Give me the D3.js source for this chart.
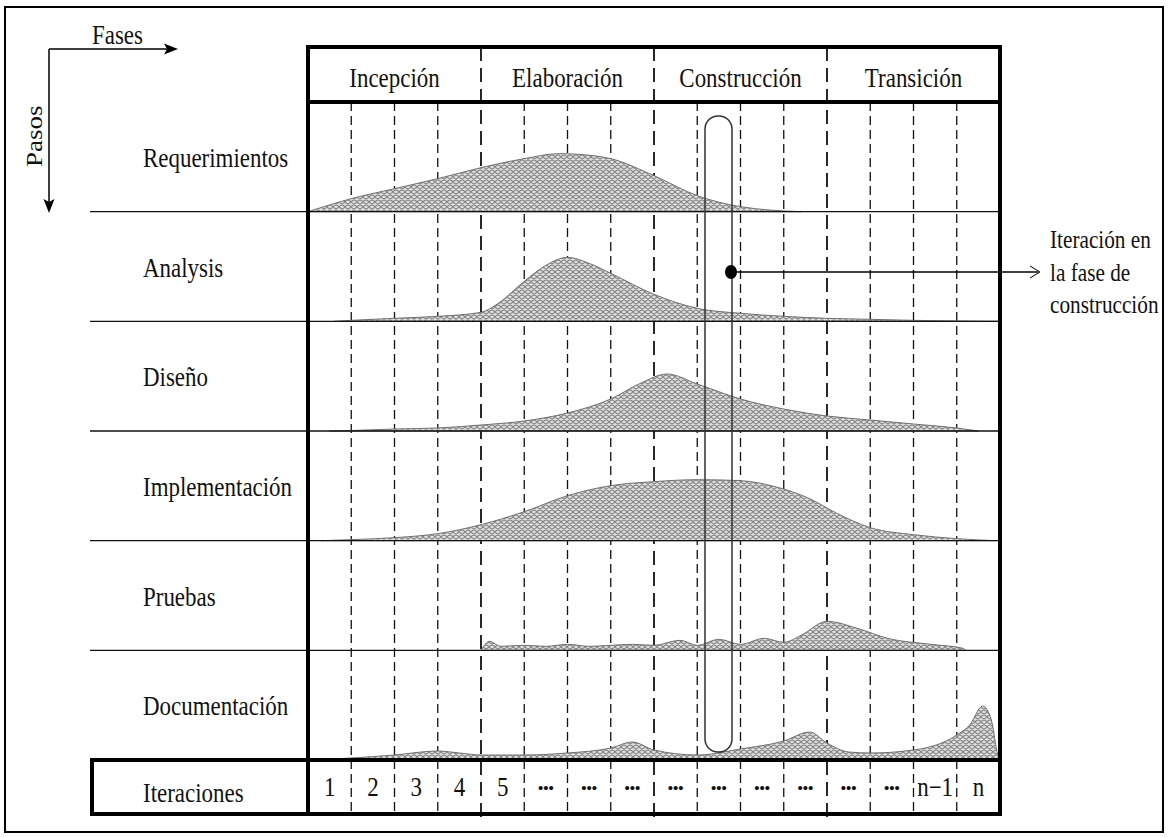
<!DOCTYPE html>
<html lang="es">

<head>
    <meta charset="UTF-8">
    <title>Fases y pasos del proceso</title>
    <script src="https://d3js.org/d3.v7.min.js"></script>
    <style>
        body {
            margin: 0;
            background: #fff;
        }

        text {
            font-family: "Liberation Serif", "DejaVu Serif", serif;
            fill: #111;
        }

        .col {
            stroke: #111;
            stroke-width: 1.3;
            stroke-dasharray: 9 5;
        }

        .phase {
            stroke: #111;
            stroke-width: 1.8;
            stroke-dasharray: 14 7;
        }

        .row {
            stroke: #111;
            stroke-width: 1.3;
        }

        .thick {
            stroke: #000;
            stroke-width: 4;
            fill: none;
        }

        .curve {
            fill: url(#hatch);
            stroke: #707070;
            stroke-width: 1;
        }
    </style>
</head>

<body>
    <svg id="chart"></svg>

    <script>
        const width = 1169;
        const height = 837;

        // phases (top header) and steps (rows)
        const phases = ['Incepción', 'Elaboración', 'Construcción', 'Transición'];
        const steps = ['Requerimientos', 'Analysis', 'Diseño', 'Implementación', 'Pruebas', 'Documentación'];
        const iterationLabels = ['1', '2', '3', '4', '5', '•••', '•••', '•••', '•••', '•••', '•••', '•••', '•••', '•••', 'n−1', 'n'];
        const noteLines = ['Iteración en', 'la fase de', 'construcción'];

        // effort curves: [iteration position, height]
        const reqPoints = [[0, 0], [1, 13], [2, 23], [3, 33], [4, 44], [5, 53], [5.8, 58], [6.6, 56], [7, 53], [8, 36], [9, 16], [10, 5], [11.4, 0]];
        const analysisPoints = [[0.6, 0], [1, 1], [2, 3], [3, 5], [4, 9], [4.4, 18], [5, 40], [5.5, 56], [6, 64], [6.5, 58], [7, 48], [8, 27], [9, 13], [10, 8], [11, 5], [12, 3], [13, 2], [14, 1], [16, 0]];
        const designPoints = [[0.5, 0], [1, 0.5], [2, 2], [3, 3], [4, 6], [5, 10], [6, 18], [7, 32], [7.7, 48], [8.3, 57], [9, 47], [10, 32], [11, 22], [12, 15], [13, 11], [14, 7], [15, 3], [15.5, 0]];
        const implPoints = [[0.3, 0], [1, 1], [2, 3], [3, 7], [4, 16], [5, 29], [6, 45], [7, 55], [8, 59], [9, 61], [10, 60], [10.8, 54], [11.6, 42], [12.2, 28], [13, 13], [14, 6], [15, 2], [15.9, 0]];
        const testPoints = [[4.0, 0], [4.2, 9], [4.45, 4], [5, 5], [5.5, 4], [6, 6], [6.5, 4], [7, 5], [7.5, 6], [8, 5], [8.6, 10], [9.0, 5], [9.5, 11], [10, 6], [10.55, 12], [11, 8], [11.4, 15], [12, 29], [12.7, 22], [13.4, 12], [14.4, 6], [15.15, 2], [15.2, 0]];
        const docPoints = [[0, 0], [1, 2], [2, 5], [3, 9], [3.5, 7], [4, 5], [5, 5], [6, 7], [7, 12], [7.5, 18], [8, 10], [9, 5], [10, 11], [11, 19], [11.6, 28], [12, 17], [12.5, 8], [13, 7], [14, 10], [15, 25], [15.3, 35], [15.6, 54], [15.8, 40], [15.95, 5], [16, 0]];
        const curves = [reqPoints, analysisPoints, designPoints, implPoints, testPoints, docPoints];

        // layout
        const gridLeft = 308, gridRight = 1000, gridTop = 47, headerBottom = 102, bodyBottom = 760, iterBottom = 814;
        const labelX = 143;

        const svg = d3.select('#chart')
            .attr('width', width)
            .attr('height', height);

        const defs = svg.append('defs');
        const pat = defs.append('pattern')
            .attr('id', 'hatch')
            .attr('width', 6)
            .attr('height', 5)
            .attr('patternUnits', 'userSpaceOnUse');
        pat.append('rect').attr('width', 6).attr('height', 5).attr('fill', '#e0e0e0');
        pat.append('path')
            .attr('d', 'M0,4.5 Q3,0.5 6,4.5 M-3,2 Q0,-2 3,2 M3,2 Q6,-2 9,2')
            .attr('fill', 'none')
            .attr('stroke', '#808080')
            .attr('stroke-width', 1.1);

        const x = d3.scaleLinear().domain([0, 16]).range([gridLeft, gridRight]);
        const rowY = d3.scaleBand().domain(steps).range([headerBottom, bodyBottom]);
        const h = d3.scaleLinear().domain([0, 100]).range([0, 100]);

        function addText(g, tx, ty, str, anchor, size) {
            return g.append('text')
                .attr('transform', `translate(${tx},${ty}) scale(0.85,1)`)
                .attr('text-anchor', anchor || 'start')
                .attr('font-size', size || 27)
                .text(str);
        }

        // outer frame
        svg.append('rect')
            .attr('x', 5).attr('y', 7)
            .attr('width', 1158).attr('height', 825)
            .attr('fill', 'none').attr('stroke', '#000').attr('stroke-width', 2);

        // dashed grid
        const cols = d3.range(1, 16);
        svg.selectAll('.col')
            .data(cols.filter(d => d % 4 !== 0))
            .enter().append('line')
            .attr('class', 'col')
            .attr('x1', d => x(d)).attr('x2', d => x(d))
            .attr('y1', headerBottom).attr('y2', iterBottom);
        svg.selectAll('.phase')
            .data(cols.filter(d => d % 4 === 0))
            .enter().append('line')
            .attr('class', 'phase')
            .attr('x1', d => x(d)).attr('x2', d => x(d))
            .attr('y1', gridTop).attr('y2', iterBottom + 6);

        // curves
        curves.forEach((pts, i) => {
            const base = rowY(steps[i]) + rowY.bandwidth();
            const area = d3.area()
                .x(d => x(d[0]))
                .y0(base)
                .y1(d => base - h(d[1]))
                .curve(d3.curveMonotoneX);
            svg.append('path')
                .attr('class', 'curve')
                .attr('d', area(pts));
        });

        // row separators
        svg.selectAll('.row')
            .data(steps.slice(0, -1))
            .enter().append('line')
            .attr('class', 'row')
            .attr('x1', 90).attr('x2', gridRight)
            .attr('y1', d => rowY(d) + rowY.bandwidth())
            .attr('y2', d => rowY(d) + rowY.bandwidth());

        // capsule = one iteration in construction
        svg.append('rect')
            .attr('x', 705).attr('y', 116)
            .attr('width', 27).attr('height', 636)
            .attr('rx', 13).attr('ry', 13)
            .attr('fill', 'none').attr('stroke', '#333').attr('stroke-width', 1.5);

        // thick frames
        svg.append('rect').attr('class', 'thick')
            .attr('x', gridLeft).attr('y', gridTop)
            .attr('width', gridRight - gridLeft).attr('height', iterBottom - gridTop);
        svg.append('line').attr('class', 'thick')
            .attr('x1', gridLeft).attr('x2', gridRight)
            .attr('y1', headerBottom).attr('y2', headerBottom);
        svg.append('rect').attr('class', 'thick')
            .attr('x', 92).attr('y', bodyBottom)
            .attr('width', gridRight - 92).attr('height', iterBottom - bodyBottom);

        // header texts
        phases.forEach((p, i) => {
            addText(svg, (x(i * 4) + x(i * 4 + 4)) / 2, 87, p, 'middle');
        });

        // step labels
        steps.forEach(s => {
            addText(svg, labelX, rowY(s) + rowY.bandwidth() / 2 + 10, s);
        });
        addText(svg, labelX, 802, 'Iteraciones');

        // iteration numbers
        iterationLabels.forEach((t, i) => {
            const cx = (x(i) + x(i + 1)) / 2;
            if (t === '•••') {
                svg.append('text')
                    .attr('x', cx).attr('y', 793)
                    .attr('text-anchor', 'middle')
                    .attr('font-size', 15)
                    .attr('font-weight', 'bold')
                    .text(t);
            } else {
                addText(svg, cx, 796, t, 'middle');
            }
        });

        // Fases / Pasos arrows
        svg.append('path')
            .attr('d', 'M49,49 H168 M49,49 V203')
            .attr('stroke', '#000').attr('stroke-width', 1.5).attr('fill', 'none');
        svg.append('path')
            .attr('d', 'M178,49 L164,43.5 L167,49 L164,54.5 Z M49,213 L43.5,199 L49,202 L54.5,199 Z')
            .attr('fill', '#000');
        addText(svg, 92, 44, 'Fases');
        svg.append('text')
            .attr('transform', 'translate(42,167) scale(0.85,1) rotate(-90)')
            .attr('font-size', 27)
            .text('Pasos');

        // annotation
        svg.append('line')
            .attr('x1', 731).attr('x2', 1038)
            .attr('y1', 272).attr('y2', 272)
            .attr('stroke', '#000').attr('stroke-width', 1.5);
        svg.append('path')
            .attr('d', 'M1030,266 L1040,272 L1030,278')
            .attr('fill', 'none').attr('stroke', '#000').attr('stroke-width', 1);
        svg.append('ellipse')
            .attr('cx', 731).attr('cy', 272)
            .attr('rx', 6).attr('ry', 7)
            .attr('fill', '#000');
        noteLines.forEach((t, i) => {
            addText(svg, 1050, 248 + i * 32.5, t, 'start', 25);
        });
    </script>
</body>

</html>
